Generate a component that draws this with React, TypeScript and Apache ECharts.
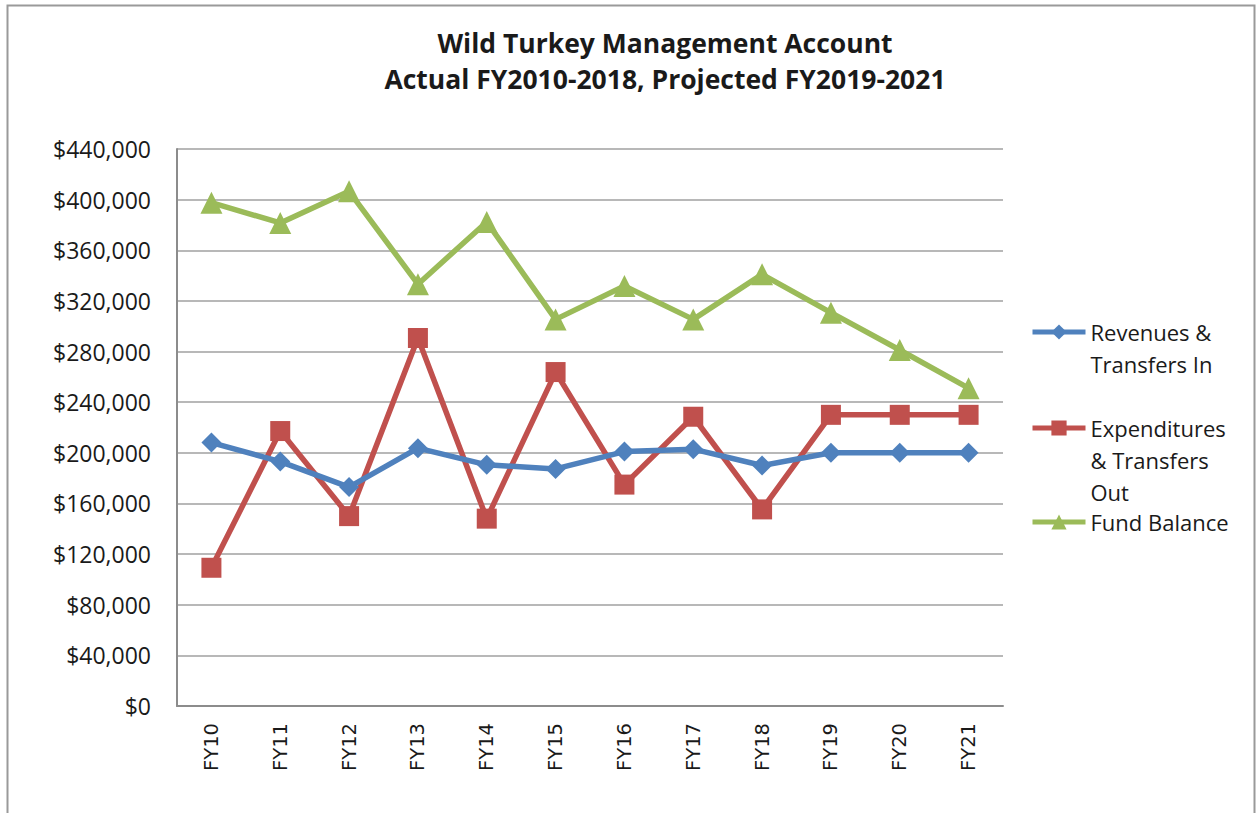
import React, { useEffect, useRef } from "react";
import * as echarts from "echarts";

const categories = ["FY10", "FY11", "FY12", "FY13", "FY14", "FY15", "FY16", "FY17", "FY18", "FY19", "FY20", "FY21"];
const revenues = [208100, 193100, 172900, 203700, 190500, 187300, 201000, 202900, 190000, 200000, 200000, 200000];
const expenditures = [109200, 217200, 150000, 290700, 148000, 263800, 174900, 228500, 155300, 230000, 230000, 230000];
const fundBalance = [397600, 381600, 406600, 333200, 382400, 305400, 331800, 305400, 341000, 310700, 281200, 251100];

const yMin = 0;
const yMax = 440000;
const yStep = 40000;

const seriesNames = ["Revenues & Transfers In", "Expenditures & Transfers Out", "Fund Balance"];
const legendLines = [["Revenues &", "Transfers In"], ["Expenditures", "& Transfers", "Out"], ["Fund Balance"]];
const titleLines = ["Wild Turkey Management Account", "Actual FY2010-2018, Projected FY2019-2021"];

const colors = ["#4F81BD", "#C0504D", "#9BBB59"];
const symbols = ["diamond", "rect", "triangle"];
const symbolSizes = [20, 20, 22];

export default function App() {
  const ref = useRef<HTMLDivElement>(null);

  useEffect(() => {
    if (!ref.current) return;
    const chart = echarts.init(ref.current, undefined, { renderer: "svg" });
    const data = [revenues, expenditures, fundBalance];
    const legendCenters = [332, 428, 522];
    const LH = 32;

    const legends = seriesNames.map((name, i) => {
      const lines = legendLines[i];
      const n = lines.length;
      const padded = [...Array(n - 1).fill(" "), ...lines];
      const total = padded.length;
      return {
        show: true,
        orient: "vertical",
        left: 1030,
        top: legendCenters[i] - (total * LH) / 2,
        padding: 0,
        data: [name],
        itemWidth: 53,
        itemHeight: 19,
        selectedMode: false,
        lineStyle: { width: 5 },
        formatter: () => padded.join("\n"),
        textStyle: {
          fontFamily: "Open Sans",
          fontSize: 22,
          color: "#1a1a1a",
          lineHeight: LH,
        },
      };
    });

    chart.setOption({
      animation: false,
      backgroundColor: "#ffffff",
      title: {
        text: titleLines.join("\n"),
        left: 665,
        top: 25,
        padding: 0,
        textAlign: "center",
        textStyle: {
          fontFamily: "Open Sans",
          fontWeight: "bold",
          fontSize: 26.5,
          lineHeight: 36,
          color: "#1a1a1a",
        },
      },
      legend: legends,
      grid: { left: 177, right: 254, top: 149, bottom: 107, containLabel: false },
      xAxis: {
        type: "category",
        data: categories,
        boundaryGap: true,
        axisLine: { lineStyle: { color: "#8c8c8c", width: 2 } },
        axisTick: { show: false },
        axisLabel: {
          rotate: 90,
          margin: 17,
          fontFamily: "DejaVu Sans",
          fontSize: 19.5,
          color: "#1a1a1a",
        },
      },
      yAxis: {
        type: "value",
        min: yMin,
        max: yMax,
        interval: yStep,
        axisLine: { show: true, lineStyle: { color: "#8c8c8c", width: 2 } },
        axisTick: { show: false },
        splitLine: { lineStyle: { color: "#a0a0a0", width: 1.6 } },
        axisLabel: {
          margin: 26,
          fontFamily: "Open Sans",
          fontSize: 23,
          color: "#1a1a1a",
          formatter: (v: number) => "$" + v.toLocaleString("en-US"),
        },
      },
      graphic: [
        {
          type: "rect",
          shape: { x: 7.5, y: 5.5, width: 1247, height: 900 },
          style: { fill: "none", stroke: "#9a9a9a", lineWidth: 2 },
          silent: true,
          z: 100,
        },
      ],
      series: seriesNames.map((name, i) => ({
        name,
        type: "line",
        data: data[i],
        symbol: symbols[i],
        symbolSize: symbolSizes[i],
        showAllSymbol: true,
        itemStyle: { color: colors[i] },
        lineStyle: { color: colors[i], width: 5.5 },
        z: 3 + (2 - i),
      })),
    });

    return () => chart.dispose();
  }, []);

  return (
    <div
      ref={ref}
      style={{ position: "absolute", left: 0, top: 0, width: 1257, height: 813, background: "#fff" }}
    />
  );
}
